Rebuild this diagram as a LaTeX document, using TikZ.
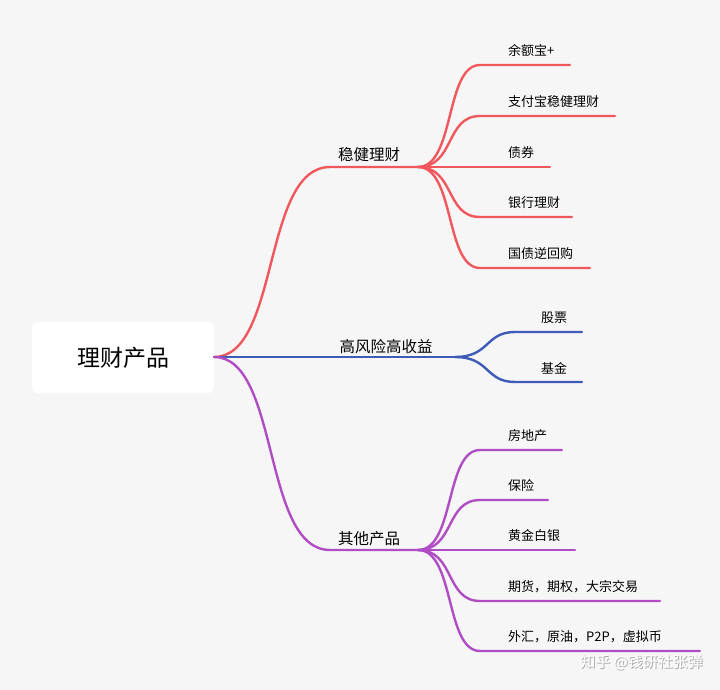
\documentclass[tikz,border=0pt]{standalone}
\usepackage{fontspec}
\setmainfont{Noto Sans CJK SC}
\begin{document}
\begin{tikzpicture}[x=1pt,y=-1pt,
  lnk/.style={line width=2.4pt,line cap=round},
  leaf/.style={anchor=south west,inner sep=0pt,font=\fontsize{13}{13}\selectfont},
  mid/.style={anchor=south,inner sep=0pt,font=\fontsize{15.5}{15}\selectfont}]
\definecolor{rd}{HTML}{F0585E}
\definecolor{bl}{HTML}{3F5BB8}
\definecolor{pu}{HTML}{B04CC4}
\fill[fill={rgb,255:red,246;green,246;blue,246}] (0,0) rectangle (720,690);
\useasboundingbox (0,0) rectangle (720,690);
\node[fill=white,rounded corners=6pt,minimum width=182pt,minimum height=71pt,font=\fontsize{23}{23}\selectfont] (root) at (123,357.5) {理财产品};
\coordinate (r) at (214,357);
% red
\coordinate (a0) at (330,167); \coordinate (a1) at (418,167);
\draw[lnk,rd] (r) .. controls (280,357) and (262,167) .. (a0) -- (a1);
\node[mid] (ta) at (369,162) {稳健理财};
\foreach \y/\e/\t [count=\i] in {65/570/余额宝+,116/615/支付宝稳健理财,167/550/债券,217/572/银行理财,268/590/国债逆回购}{
  \coordinate (s\i) at (480,\y); \coordinate (e\i) at (\e,\y);
  \draw[lnk,rd] (a1) .. controls (455,167) and (445,\y) .. (s\i) -- (e\i);
  \node[leaf] (la\i) at (508,\y-8) {\t};
}
% blue
\coordinate (b0) at (455,357);
\draw[lnk,bl] (r) -- (b0);
\node[mid] (tb) at (386,354) {高风险高收益};
\foreach \y/\t [count=\i] in {332/股票,382/基金}{
  \coordinate (bs\i) at (515,\y); \coordinate (be\i) at (582,\y);
  \draw[lnk,bl] (b0) .. controls (490,357) and (485,\y) .. (bs\i) -- (be\i);
  \node[leaf] (lb\i) at (541,\y-8) {\t};
}
% purple
\coordinate (c0) at (330,550); \coordinate (c1) at (418,550);
\draw[lnk,pu] (r) .. controls (280,357) and (262,550) .. (c0) -- (c1);
\node[mid] (tc) at (369,546) {其他产品};
\foreach \y/\e/\t [count=\i] in {450/562/房地产,500/548/保险,550/575/黄金白银,601/660/{期货，期权，大宗交易},651/700/{外汇，原油，P2P，虚拟币}}{
  \coordinate (ps\i) at (480,\y); \coordinate (pe\i) at (\e,\y);
  \draw[lnk,pu] (c1) .. controls (455,550) and (445,\y) .. (ps\i) -- (pe\i);
  \node[leaf] (lc\i) at (508,\y-8) {\t};
}
\node[anchor=east,text=gray!70,font=\fontsize{15}{15}\selectfont,inner sep=0pt] (wms) at (704,663) {知乎 @钱研社张弹};
\node[anchor=east,text=white,font=\fontsize{15}{15}\selectfont,inner sep=0pt] (wm) at (703,662) {知乎 @钱研社张弹};
\end{tikzpicture}
\end{document}
